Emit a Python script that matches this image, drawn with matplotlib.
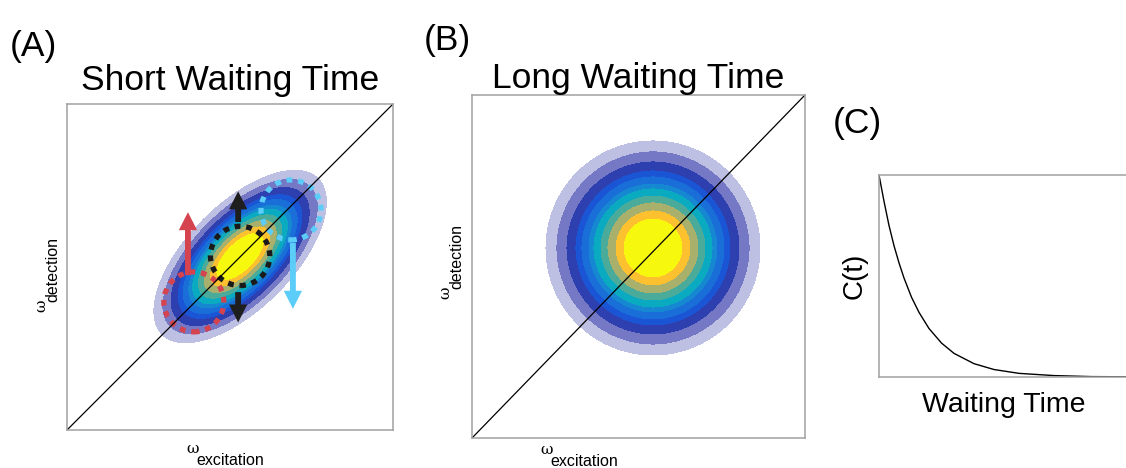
import numpy as np
import matplotlib.pyplot as plt
from matplotlib.patches import Circle

plt.rcParams['font.family'] = ['Liberation Sans', 'DejaVu Sans']

# Contour boundaries as fractions of the outer ring radius (inner -> outer)
niveles = [0.0, 0.280, 0.355, 0.430, 0.495, 0.561, 0.607, 0.673, 0.729, 0.813, 0.907, 1.0]
colores = ['#f6f80e', '#fdc12f', '#a8b06c', '#4aab9a', '#0aaac0', '#1688d2',
           '#1a6ed8', '#1a55d6', '#2e40b0', '#7579c5', '#bec0e3']

# Panel A: elongated peak along the diagonal (axes units)
centro_a = (0.531, 0.532)
semieje_mayor_a = 0.338
semieje_menor_a = 0.160

# Dotted probe rings in panel A: centre x, centre y, radius, colour
anillos_a = [(0.389, 0.393, 0.092, '#d4434e'),
             (0.687, 0.675, 0.092, '#5ccdf8'),
             (0.531, 0.534, 0.091, '#1a1a1a')]

# Arrows in panel A: x, y start, y end, colour
flechas_a = [(0.371, 0.475, 0.668, '#d4434e'),
             (0.525, 0.638, 0.732, '#1e1e1e'),
             (0.525, 0.423, 0.330, '#1e1e1e'),
             (0.693, 0.574, 0.372, '#5ccdf8')]

# Panel B: round peak, centre in axes units and radius in pixels
centro_b = (0.5435, 0.554)
radio_b_px = 107

# Panel C: correlation decay
t_espera = [0.0, 0.02, 0.04, 0.06, 0.08, 0.10, 0.13, 0.16, 0.20, 0.25,
            0.30, 0.38, 0.46, 0.56, 0.70, 0.85, 1.0]
correlacion = [1.0, 0.87, 0.75, 0.65, 0.565, 0.49, 0.395, 0.32, 0.24, 0.168,
               0.117, 0.066, 0.037, 0.018, 0.007, 0.002, 0.001]

gris = '#a0a0a0'

fig = plt.figure(figsize=(11.26, 4.68), dpi=100)
ax_a = fig.add_axes([67 / 1126, 38 / 468, 326 / 1126, 326 / 468])
ax_b = fig.add_axes([472 / 1126, 30 / 468, 333 / 1126, 343 / 468])
ax_c = fig.add_axes([879 / 1126, 91 / 468, 250 / 1126, 202 / 468])


def marco(ax):
    ax.set_xticks([])
    ax.set_yticks([])
    for s in ax.spines.values():
        s.set_color(gris)
        s.set_linewidth(1.1)


# --- Panel A ---
g = np.linspace(0, 1, 500)
X, Y = np.meshgrid(g, g)
u = ((X - centro_a[0]) + (Y - centro_a[1])) / np.sqrt(2)
v = (-(X - centro_a[0]) + (Y - centro_a[1])) / np.sqrt(2)
R = np.sqrt((u / semieje_mayor_a) ** 2 + (v / semieje_menor_a) ** 2)
ax_a.contourf(X, Y, R, levels=niveles, colors=colores)
ax_a.plot([0, 1], [0, 1], color='black', lw=0.9)
for cx, cy, r, c in anillos_a:
    ax_a.add_patch(Circle((cx, cy), r, fill=False, edgecolor=c, lw=3.8,
                          linestyle=(0, (1.1, 1.1)), capstyle='butt'))
for x, y0, y1, c in flechas_a:
    ax_a.arrow(x, y0, 0, y1 - y0, width=0.018, head_width=0.056, head_length=0.055,
               length_includes_head=True, color=c, lw=0)
ax_a.set_xlim(0, 1)
ax_a.set_ylim(0, 1)
marco(ax_a)
ax_a.set_title('Short Waiting Time', fontsize=25.5, pad=10)

# --- Panel B ---
Xb, Yb = np.meshgrid(np.linspace(0, 1, 500), np.linspace(0, 1, 500))
Rb = np.hypot((Xb - centro_b[0]) * 333, (Yb - centro_b[1]) * 343) / radio_b_px
ax_b.contourf(Xb, Yb, Rb, levels=niveles, colors=colores)
ax_b.plot([0, 1], [0, 1], color='black', lw=0.9)
ax_b.set_xlim(0, 1)
ax_b.set_ylim(0, 1)
marco(ax_b)
ax_b.set_title('Long Waiting Time', fontsize=25.5, pad=4)

# --- Panel C ---
ax_c.plot(t_espera, correlacion, color='black', lw=1.0)
ax_c.set_xlim(0, 1)
ax_c.set_ylim(0, 1)
marco(ax_c)
ax_c.spines['right'].set_visible(False)
ax_c.set_ylabel('C(t)', fontsize=20, labelpad=8)
ax_c.set_xlabel('Waiting Time', fontsize=20.5, labelpad=11)


# omega axis labels (symbol plus lowered subscript)
def etiqueta_x(x_px, y_px):
    fig.text(x_px / 1126, 1 - y_px / 468, 'ω', fontsize=11, ha='left', va='baseline',
             family=['DejaVu Serif'])
    fig.text((x_px + 10) / 1126, 1 - (y_px + 12) / 468, 'excitation', fontsize=11.5,
             ha='left', va='baseline')


def etiqueta_y(x_px, y_px):
    fig.text(x_px / 1126, 1 - y_px / 468, 'ω', fontsize=11, ha='right', va='bottom',
             rotation=90, family=['DejaVu Serif'])
    fig.text((x_px + 12) / 1126, 1 - (y_px - 10) / 468, 'detection', fontsize=11.5,
             ha='right', va='bottom', rotation=90)


etiqueta_x(186, 453)
etiqueta_x(540, 454)
etiqueta_y(48, 312)
etiqueta_y(452, 299)

fig.text(10 / 1126, 1 - 56 / 468, '(A)', fontsize=25.5)
fig.text(424 / 1126, 1 - 50 / 468, '(B)', fontsize=25.5)
fig.text(833 / 1126, 1 - 133 / 468, '(C)', fontsize=25.5)

fig.savefig('out.png', dpi=100)
